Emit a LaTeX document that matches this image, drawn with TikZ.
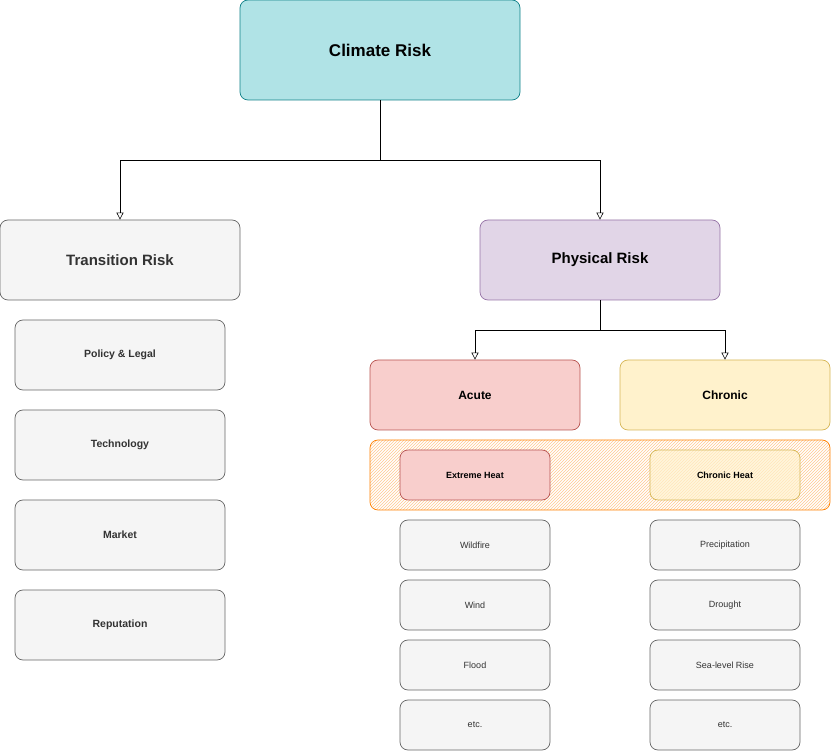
\documentclass[tikz,border=0pt]{standalone}
\usepackage{fontspec}
\setmainfont{Liberation Sans}
\usetikzlibrary{arrows.meta,patterns}
\definecolor{cyanF}{HTML}{B0E3E6}\definecolor{cyanS}{HTML}{0E8088}
\definecolor{grayF}{HTML}{F5F5F5}\definecolor{grayS}{HTML}{666666}
\definecolor{purF}{HTML}{E1D5E7}\definecolor{purS}{HTML}{9673A6}
\definecolor{redF}{HTML}{F8CECC}\definecolor{redS}{HTML}{B85450}
\definecolor{yelF}{HTML}{FFF2CC}\definecolor{yelS}{HTML}{D6B656}
\definecolor{oraS}{HTML}{FF8000}\definecolor{oraP}{HTML}{FFC88F}
\begin{document}
\begin{tikzpicture}[x=1pt,y=-1pt,
 bx/.style={draw,rounded corners=8pt,line width=0.7pt,align=center,inner sep=0pt},
 gry/.style={bx,fill=grayF,draw=grayS,text=black!80},
 arr/.style={-{Triangle[open,length=7pt,width=7pt]},line width=0.6pt}]
\useasboundingbox (0,0) rectangle (831,751);
\node[bx,fill=cyanF,draw=cyanS,minimum width=280pt,minimum height=100pt,font=\bfseries\fontsize{17}{20}\selectfont] (cr) at (380,50) {Climate Risk};
\node[gry,minimum width=240pt,minimum height=80pt,font=\bfseries\fontsize{15}{18}\selectfont] (tr) at (120,260) {Transition Risk};
\node[bx,fill=purF,draw=purS,minimum width=240pt,minimum height=80pt,font=\bfseries\fontsize{15}{18}\selectfont] (pr) at (600,260) {Physical Risk};
\foreach \n/\t/\y in {p/Policy \& Legal/355,t/Technology/445,m/Market/535,r/Reputation/625}
 \node[gry,minimum width=210pt,minimum height=70pt,font=\bfseries\fontsize{10.5}{12}\selectfont] (\n) at (120,\y) {\t};
\node[bx,fill=redF,draw=redS,minimum width=210pt,minimum height=70pt,font=\bfseries\fontsize{12}{14}\selectfont] (ac) at (475,395) {Acute};
\node[bx,fill=yelF,draw=yelS,minimum width=210pt,minimum height=70pt,font=\bfseries\fontsize{12}{14}\selectfont] (ch) at (725,395) {Chronic};
\node[bx,draw=oraS,pattern=north east lines,pattern color=oraP,minimum width=460pt,minimum height=70pt] (hz) at (600,475) {};
\node[bx,fill=redF,draw=redS,minimum width=150pt,minimum height=50pt,font=\bfseries\fontsize{9}{11}\selectfont] (eh) at (475,475) {Extreme Heat};
\node[bx,fill=yelF,fill opacity=0.7,text opacity=1,draw=yelS,minimum width=150pt,minimum height=50pt,font=\bfseries\fontsize{9}{11}\selectfont] (chh) at (725,475) {Chronic Heat};
\foreach \n/\t/\y in {a1/Wildfire/545,a2/Wind/605,a3/Flood/665,a4/etc./725}
 \node[gry,minimum width=150pt,minimum height=50pt,font=\fontsize{9}{11}\selectfont] (\n) at (475,\y) {\t};
\foreach \n/\t/\y in {c1/Precipitation/545,c2/Drought/605,c3/Sea-level Rise/665,c4/etc./725}
 \node[gry,minimum width=150pt,minimum height=50pt,font=\fontsize{9}{11}\selectfont] (\n) at (725,\y) {\t};
\draw[arr] (cr.south) -- (380,160) -| (tr.north);
\draw[arr] (cr.south) -- (380,160) -| (pr.north);
\draw[arr] (pr.south) -- (600,330) -| (ac.north);
\draw[arr] (pr.south) -- (600,330) -| (ch.north);
\end{tikzpicture}
\end{document}
